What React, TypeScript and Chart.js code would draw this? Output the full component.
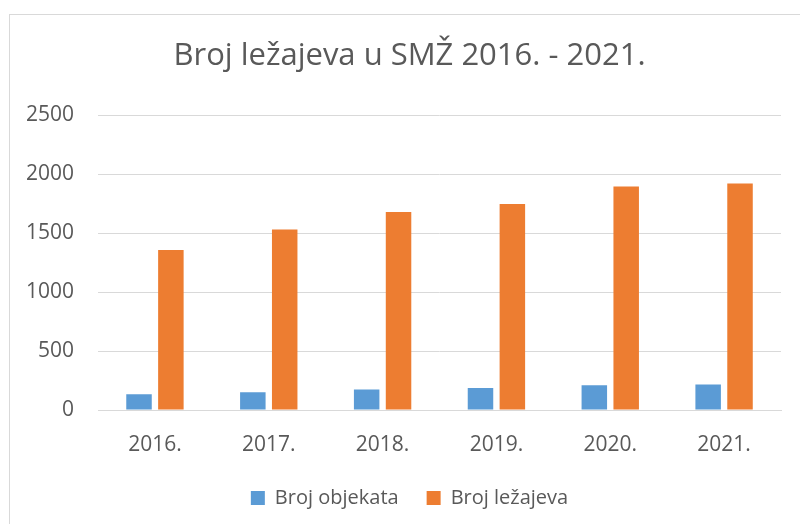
import React, { useEffect, useRef } from "react";
import { Chart, registerables } from "chart.js";

Chart.register(...registerables);

const categories = ["2016.", "2017.", "2018.", "2019.", "2020.", "2021."];
const brojObjekata = [134, 151, 174, 187, 210, 216];
const brojLezajeva = [1356, 1530, 1680, 1748, 1896, 1921];
const yTicks = [0, 500, 1000, 1500, 2000, 2500];
const titleText = "Broj ležajeva u SMŽ 2016. - 2021.";
const seriesNames = ["Broj objekata", "Broj ležajeva"];

const FONT = "'Open Sans', Lato, sans-serif";
const TEXT = "#595959";

const borderPlugin = {
  id: "outerBorder",
  beforeDraw(chart: any) {
    const ctx = chart.ctx;
    ctx.save();
    ctx.fillStyle = "#ffffff";
    ctx.fillRect(0, 0, chart.width, chart.height);
    ctx.strokeStyle = "#D9D9D9";
    ctx.lineWidth = 1;
    ctx.strokeRect(9.5, 14.5, chart.width, chart.height);
    ctx.restore();
  },
};

// Centre title and legend on the outer frame rather than the padded canvas
const shiftPlugin = {
  id: "shiftBlocks",
  afterLayout(chart: any) {
    const shift = 18;
    for (const box of [chart.titleBlock, chart.legend]) {
      if (box) {
        box.left += shift;
        box.right += shift;
      }
    }
  },
};

export default function App() {
  const ref = useRef<HTMLCanvasElement | null>(null);
  useEffect(() => {
    if (!ref.current) return;
    const chart = new Chart(ref.current, {
      type: "bar",
      data: {
        labels: categories,
        datasets: [
          {
            label: seriesNames[0],
            data: brojObjekata,
            backgroundColor: "#5B9BD5",
            categoryPercentage: 0.56,
            barPercentage: 0.8,
          },
          {
            label: seriesNames[1],
            data: brojLezajeva,
            backgroundColor: "#ED7D31",
            categoryPercentage: 0.56,
            barPercentage: 0.8,
          },
        ],
      },
      options: {
        animation: false,
        responsive: false,
        layout: { padding: { left: 2, right: 19, top: 0, bottom: 6 } },
        plugins: {
          title: {
            display: true,
            text: titleText,
            color: TEXT,
            font: { family: FONT, size: 31, weight: "normal" },
            padding: { top: 38, bottom: 40 },
          },
          legend: {
            position: "bottom",
            labels: {
              color: TEXT,
              font: { family: FONT, size: 20 },
              boxWidth: 14,
              boxHeight: 14,
              padding: 28,
            },
          },
          tooltip: { enabled: false },
        },
        scales: {
          x: {
            grid: { display: false },
            border: { color: "#D9D9D9", width: 1 },
            ticks: { color: TEXT, font: { family: FONT, size: 21 }, padding: 14.5 },
            afterFit: (axis: any) => {
              axis.height = 50;
            },
          },
          y: {
            min: 0,
            max: 2500,
            afterBuildTicks: (axis: any) => {
              axis.ticks = yTicks.map((v) => ({ value: v }));
            },
            grid: { color: "#D9D9D9", lineWidth: 1, drawTicks: false },
            border: { display: false },
            ticks: {
              color: TEXT,
              font: { family: FONT, size: 21 },
              padding: 24,
              callback: (v: any) => String(v),
            },
          },
        },
      },
      plugins: [borderPlugin, shiftPlugin],
    });
    return () => chart.destroy();
  }, []);
  return (
    <div style={{ position: "absolute", left: 0, top: 0, width: 800, height: 524 }}>
      <canvas ref={ref} width={800} height={524} style={{ display: "block" }} />
    </div>
  );
}
